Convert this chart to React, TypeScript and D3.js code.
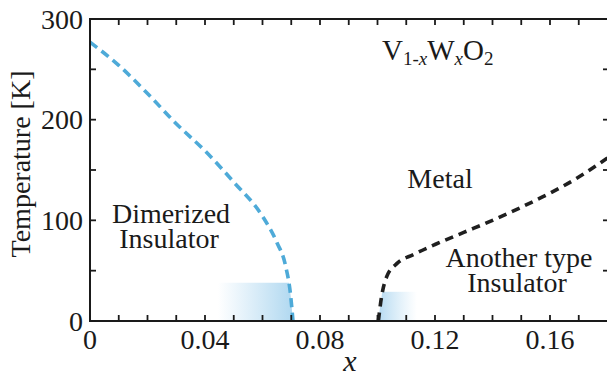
import React from "react";
import * as d3 from "d3";

// Phase boundary of V(1-x)W(x)O2: dimerized insulator -> metal transition
const dimerX = [0, 0.01, 0.02, 0.03, 0.04, 0.05, 0.06, 0.065, 0.068, 0.0698, 0.0706];
const dimerT = [277, 254, 226, 196, 169, 138, 104, 78, 55, 25, 0];

// Boundary of the second insulating phase at higher W content
const otherX = [0.1003, 0.1014, 0.1032, 0.1067, 0.1125, 0.12, 0.13, 0.14, 0.15, 0.16, 0.17, 0.18];
const otherT = [0, 24, 44, 57, 66, 76, 88, 100, 113, 127, 143, 162];

// Shaded low-temperature regions near each boundary
const shadeLeft = { x0: 0.0445, x1: 0.0706, t: 38 };
const shadeRight = { x0: 0.1, x1: 0.1137, t: 29 };

const xTickValues = [0, 0.04, 0.08, 0.12, 0.16];
const xTickLabels = ["0", "0.04", "0.08", "0.12", "0.16"];
const yTickValues = [0, 100, 200, 300];
const yTickLabels = ["0", "100", "200", "300"];

const W = 607;
const H = 376;
const FONT = '"Liberation Serif", "DejaVu Serif", "Times New Roman", serif';
const txt: React.CSSProperties = { fontFamily: FONT };

export default function App() {
  const x = d3.scaleLinear().domain([0, 0.18]).range([90, 607.5]);
  const y = d3.scaleLinear().domain([0, 300]).range([321, 19]);

  const line = d3
    .line<[number, number]>()
    .x((d) => x(d[0]))
    .y((d) => y(d[1]))
    .curve(d3.curveMonotoneX);

  const dimerPts: [number, number][] = dimerX.map((v, i) => [v, dimerT[i]]);
  const otherPts: [number, number][] = otherX.map((v, i) => [v, otherT[i]]);

  const dimerPath = line(dimerPts) || "";
  const otherPath = line(otherPts) || "";

  // clip regions: under the dimer curve, and to the right of / under the other curve
  const clipLeft = dimerPath + `L${x(0)},${y(0)}Z`;
  const clipRight = otherPath + `L${x(0.18)},${y(0)}Z`;

  const minorX = d3.range(0, 0.1701, 0.01);
  const minorY = d3.range(0, 301, 50);
  const tickLen = 6;
  const axisColor = "#1a1a1a";

  const x0 = x(0);
  const xr = x(0.18) + 1.5; // right spine sits just past the last x value
  const y0 = y(0);
  const y1 = y(300);

  return (
    <svg
      width={W}
      height={H}
      style={{ position: "absolute", left: 0, top: 0, background: "#fff", fontFamily: FONT }}
    >
      <defs>
        <linearGradient id="gradLeft" x1="0" x2="1" y1="0" y2="0">
          <stop offset="0%" stopColor="#b6dbf2" stopOpacity={0} />
          <stop offset="100%" stopColor="#b0d8f0" stopOpacity={1} />
        </linearGradient>
        <linearGradient id="gradRight" x1="0" x2="1" y1="0" y2="0">
          <stop offset="0%" stopColor="#b3d9f1" stopOpacity={1} />
          <stop offset="100%" stopColor="#c4e2f5" stopOpacity={0} />
        </linearGradient>
        <clipPath id="clipLeft">
          <path d={clipLeft} />
        </clipPath>
        <clipPath id="clipRight">
          <path d={clipRight} />
        </clipPath>
      </defs>

      {/* shaded regions */}
      <rect
        x={x(shadeLeft.x0)}
        y={y(shadeLeft.t)}
        width={x(shadeLeft.x1) - x(shadeLeft.x0)}
        height={y(0) - y(shadeLeft.t)}
        fill="url(#gradLeft)"
        clipPath="url(#clipLeft)"
      />
      <rect
        x={x(shadeRight.x0)}
        y={y(shadeRight.t)}
        width={x(shadeRight.x1) - x(shadeRight.x0)}
        height={y(0) - y(shadeRight.t)}
        fill="url(#gradRight)"
        clipPath="url(#clipRight)"
      />

      {/* phase boundaries */}
      <path
        d={dimerPath}
        fill="none"
        stroke="#4eaad8"
        strokeWidth={3.6}
        strokeDasharray="9 5.5"
      />
      <path
        d={otherPath}
        fill="none"
        stroke="#1f1f1f"
        strokeWidth={3.6}
        strokeDasharray="8.5 6"
      />

      {/* frame */}
      <line x1={x0} x2={x0} y1={y1 - 1} y2={y0 + 1} stroke={axisColor} strokeWidth={2} />
      <line x1={x0} x2={xr} y1={y0} y2={y0} stroke={axisColor} strokeWidth={2} />
      <line x1={x0} x2={xr} y1={y1} y2={y1} stroke={axisColor} strokeWidth={2} />
      <line x1={xr} x2={xr} y1={y1} y2={y0} stroke={axisColor} strokeWidth={2} />

      {/* ticks */}
      {minorX.map((v, i) => (
        <g key={"tx" + i}>
          <line x1={x(v)} x2={x(v)} y1={y0} y2={y0 - tickLen} stroke={axisColor} strokeWidth={1.8} />
          <line x1={x(v)} x2={x(v)} y1={y1} y2={y1 + tickLen} stroke={axisColor} strokeWidth={1.8} />
        </g>
      ))}
      {minorY.map((v, i) => (
        <g key={"ty" + i}>
          <line x1={x0} x2={x0 + tickLen} y1={y(v)} y2={y(v)} stroke={axisColor} strokeWidth={1.8} />
          <line x1={xr} x2={xr - tickLen} y1={y(v)} y2={y(v)} stroke={axisColor} strokeWidth={1.8} />
        </g>
      ))}

      {/* tick labels */}
      {xTickValues.map((v, i) => (
        <text
          key={"xl" + i}
          x={x(v)}
          y={349}
          textAnchor="middle"
          fontSize={28}
          fill="#1a1a1a"
          style={txt}
        >
          {xTickLabels[i]}
        </text>
      ))}
      {yTickValues.map((v, i) => (
        <text
          key={"yl" + i}
          x={83}
          y={y(v) + 9.5}
          textAnchor="end"
          fontSize={28}
          fill="#1a1a1a"
          style={txt}
        >
          {yTickLabels[i]}
        </text>
      ))}

      {/* axis titles */}
      <text
        x={350}
        y={371}
        textAnchor="middle"
        fontSize={30}
        fontStyle="italic"
        fill="#1a1a1a"
        style={txt}
      >
        x
      </text>
      <text
        transform={`translate(30,${(y0 + y1) / 2 - 6}) rotate(-90)`}
        textAnchor="middle"
        fontSize={28}
        fill="#1a1a1a"
        style={txt}
      >
        Temperature [K]
      </text>

      {/* compound formula */}
      <text x={382} y={60} fontSize={29} fill="#1a1a1a" style={txt}>
        V
        <tspan fontSize={19} dy={5}>1-</tspan>
        <tspan fontSize={19} fontStyle="italic">x</tspan>
        <tspan dy={-5}>W</tspan>
        <tspan fontSize={19} fontStyle="italic" dy={5}>x</tspan>
        <tspan dy={-5}>O</tspan>
        <tspan fontSize={19} dy={5}>2</tspan>
      </text>

      {/* phase labels */}
      <text x={440} y={188} textAnchor="middle" fontSize={28} fill="#1a1a1a" style={txt}>
        Metal
      </text>
      <text x={171} y={223} textAnchor="middle" fontSize={28} fill="#1a1a1a" style={txt}>
        Dimerized
      </text>
      <text x={169} y={248} textAnchor="middle" fontSize={28} fill="#1a1a1a" style={txt}>
        Insulator
      </text>
      <text x={519} y={267} textAnchor="middle" fontSize={28} fill="#1a1a1a" style={txt}>
        Another type
      </text>
      <text x={517} y={292} textAnchor="middle" fontSize={28} fill="#1a1a1a" style={txt}>
        Insulator
      </text>
    </svg>
  );
}
